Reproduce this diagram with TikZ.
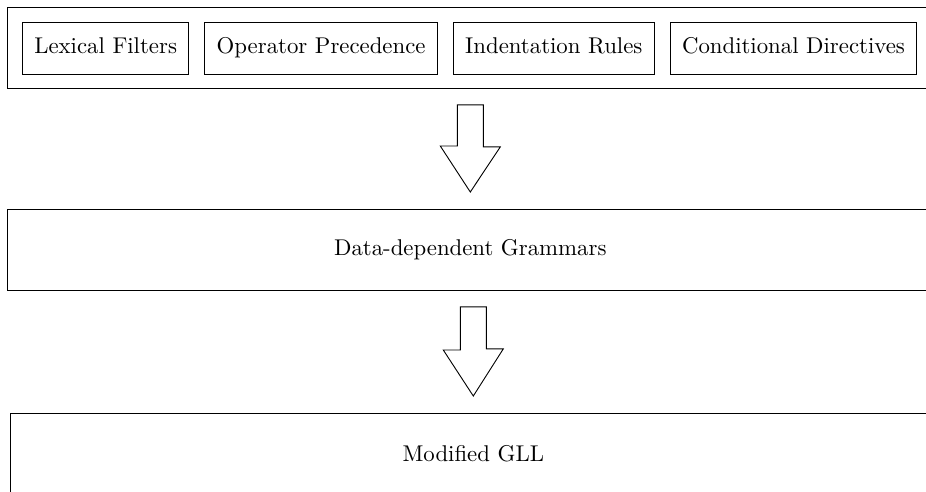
\documentclass[tikz,border=0pt]{standalone}
\usetikzlibrary{positioning, calc}

% block arrow from the bottom of one layer to the top of the next
\newcommand{\blockarrow}[2]{
    \coordinate (#1-#2-top) at (#1.south -| #2.north);
    \draw[blockarrow] ($(#1-#2-top)+(-13,16)$) -- ++(26,0) -- ++(0,42) -- ++(17,0)
        -- ($(#2.north)+(0,-17)$) -- ++(-30,-46) -- ++(17,0) -- cycle;
}

\begin{document}
\begin{tikzpicture}[
            x=0.4386pt, y=-0.4386pt,
            layer/.style={ rectangle, draw, minimum width=406pt, minimum height=35.5pt, inner sep=0pt, anchor=north west },
            feature/.style={ rectangle, draw, minimum height=22.8pt, inner xsep=5.2pt, text height=6.94pt, text depth=1.94pt, anchor=west },
            blockarrow/.style={ draw, line join=miter }
        ]
            \useasboundingbox (0,0) rectangle (926,491);
            \clip (0,0) rectangle (926,491);

            % Layer nodes
            \node (features) [layer] at (7,7) {};
            \node (ddg) [layer] at (7,209) {Data-dependent Grammars};
            \node (gll) [layer] at (10,413) {Modified GLL};

            % Feature nodes
            \node (lexical) [feature] at (22,48) {Lexical Filters};
            \node (operator) [feature, right=6.6pt of lexical] {Operator Precedence};
            \node (indentation) [feature, right=6.6pt of operator] {Indentation Rules};
            \node (conditional) [feature, right=6.6pt of indentation] {Conditional Directives};

            % Arrows
            \blockarrow{features}{ddg}
            \blockarrow{ddg}{gll}

        \end{tikzpicture}
\end{document}
